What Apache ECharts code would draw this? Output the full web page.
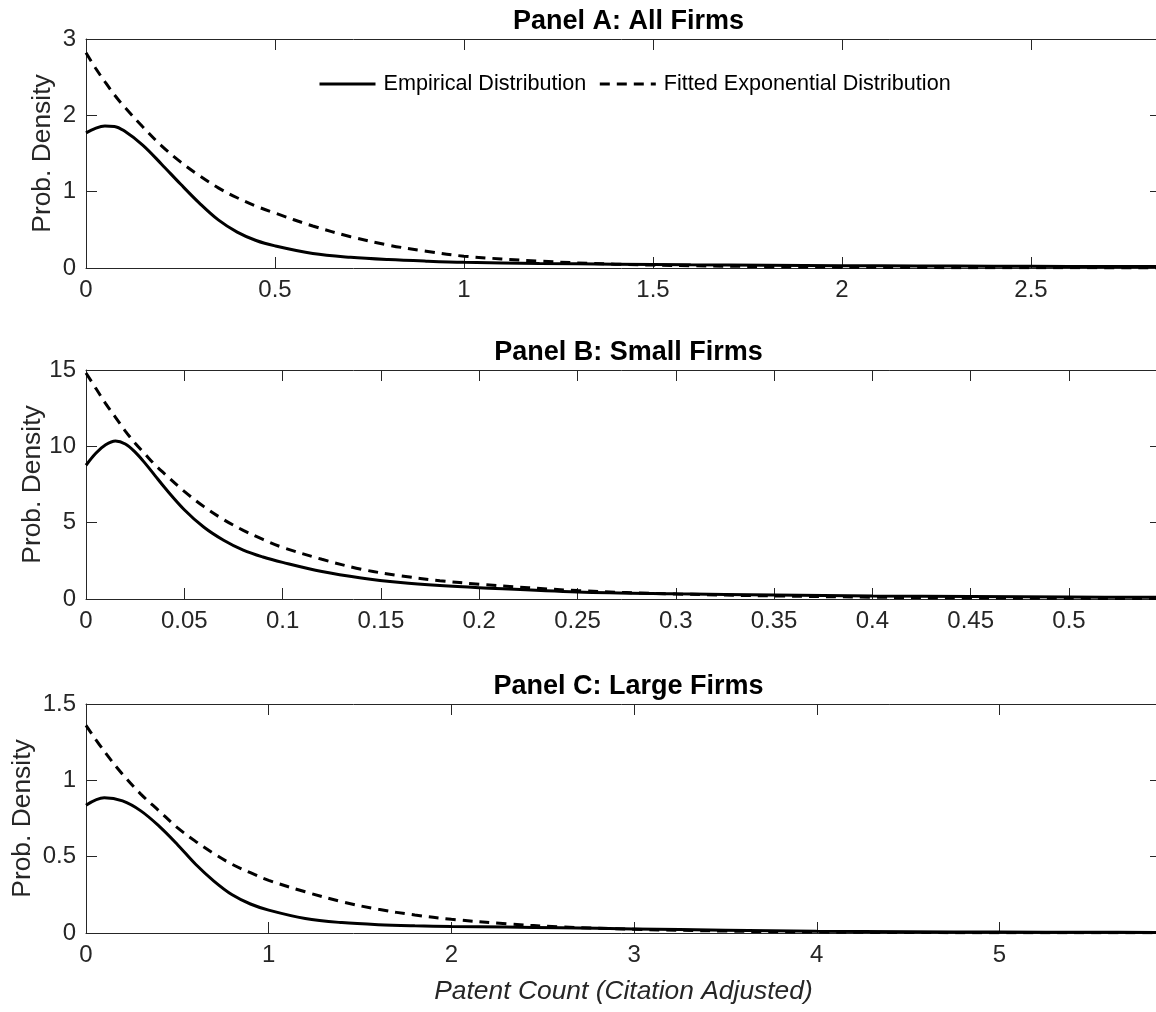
<!DOCTYPE html>
<html>
<head>
<meta charset="utf-8">
<script src="https://cdn.jsdelivr.net/npm/echarts@6/dist/echarts.min.js"></script>
<style>
html,body{margin:0;padding:0;background:#fff;}
#chart{width:1156px;height:1012px;}
</style>
</head>
<body>
<div id="chart"></div>
<script>
// ---- Data ----
const panelTitles = ['Panel A: All Firms', 'Panel B: Small Firms', 'Panel C: Large Firms'];
const seriesNames = ['Empirical Distribution', 'Fitted Exponential Distribution'];
const yAxisName = 'Prob. Density';
const xAxisName = 'Patent Count (Citation Adjusted)';

const xA = [0, 0.025, 0.05, 0.075, 0.1, 0.15, 0.2, 0.25, 0.3, 0.35, 0.4, 0.45, 0.5, 0.6, 0.7, 0.8, 0.9, 1.0, 1.2, 1.4, 1.6, 1.8, 2.0, 2.2, 2.4, 2.6, 2.844];
const empA = [1.77, 1.83, 1.86, 1.855, 1.80, 1.61, 1.36, 1.10, 0.85, 0.63, 0.47, 0.36, 0.29, 0.19, 0.14, 0.11, 0.09, 0.075, 0.06, 0.05, 0.042, 0.036, 0.031, 0.027, 0.024, 0.021, 0.018];
const fitA = [2.82, 2.62, 2.44, 2.27, 2.12, 1.85, 1.60, 1.39, 1.21, 1.05, 0.92, 0.81, 0.72, 0.55, 0.41, 0.30, 0.22, 0.155, 0.09, 0.05, 0.03, 0.018, 0.011, 0.006, 0.003, 0.002, 0.001];

const xB = [0, 0.005, 0.01, 0.015, 0.02, 0.025, 0.03, 0.035, 0.04, 0.05, 0.06, 0.07, 0.08, 0.09, 0.1, 0.12, 0.14, 0.16, 0.18, 0.2, 0.25, 0.3, 0.35, 0.4, 0.45, 0.5, 0.5468];
const empB = [8.76, 9.55, 10.1, 10.35, 10.15, 9.62, 8.9, 8.1, 7.3, 5.85, 4.7, 3.85, 3.2, 2.75, 2.4, 1.8, 1.38, 1.08, 0.88, 0.74, 0.46, 0.34, 0.26, 0.2, 0.16, 0.13, 0.11];
const fitB = [14.8, 13.8, 12.8, 11.9, 11.0, 10.2, 9.5, 8.8, 8.2, 7.05, 6.05, 5.2, 4.5, 3.9, 3.38, 2.6, 1.95, 1.52, 1.2, 0.97, 0.55, 0.33, 0.2, 0.12, 0.07, 0.045, 0.03];

const xC = [0, 0.1, 0.2, 0.3, 0.4, 0.5, 0.6, 0.7, 0.8, 0.9, 1.0, 1.2, 1.4, 1.6, 1.8, 2.0, 2.3, 2.6, 3.0, 3.5, 4.0, 4.5, 5.0, 5.5, 5.884];
const empC = [0.837, 0.886, 0.865, 0.80, 0.70, 0.58, 0.45, 0.34, 0.25, 0.19, 0.15, 0.095, 0.068, 0.054, 0.047, 0.043, 0.039, 0.034, 0.027, 0.018, 0.011, 0.008, 0.006, 0.005, 0.004];
const fitC = [1.36, 1.19, 1.04, 0.91, 0.80, 0.69, 0.60, 0.52, 0.45, 0.395, 0.345, 0.27, 0.205, 0.155, 0.118, 0.09, 0.06, 0.04, 0.024, 0.013, 0.006, 0.003, 0.002, 0.001, 0.001];

const xMax = [2.844, 0.5468, 5.884];
const xStep = [0.5, 0.05, 1];
const yMax = [3, 15, 1.5];
const yStep = [1, 5, 0.5];

// ---- Layout ----
const FONT = '"Liberation Sans", Arial, Helvetica, sans-serif';
const gridTops = [39, 370, 704];
const gridH = 229;
const gridLeft = 86;
const gridW = 1075;
const axisColor = '#262626';
const yNameGaps = [30, 40, 50];

const xs = [xA, xB, xC];
const emps = [empA, empB, empC];
const fits = [fitA, fitB, fitC];

const grids = [], xAxes = [], yAxes = [], series = [], titles = [];
for (let i = 0; i < 3; i++) {
  grids.push({left: gridLeft, top: gridTops[i], width: gridW, height: gridH, containLabel: false, outerBoundsMode: 'none'});
  titles.push({
    text: panelTitles[i], left: gridLeft + gridW / 2, top: gridTops[i] - 36, textAlign: 'center',
    textStyle: {fontFamily: FONT, fontSize: 27, fontWeight: 'bold', color: '#000'}
  });
  const common = {
    type: 'value', gridIndex: i, min: 0, splitLine: {show: false},
    axisLine: {show: true, onZero: false, lineStyle: {color: axisColor, width: 1}},
    axisTick: {show: true, inside: true, length: 11, lineStyle: {color: axisColor, width: 1}}
  };
  xAxes.push(Object.assign({}, common, {
    position: 'bottom', max: xMax[i], interval: xStep[i],
    axisLabel: {show: true, showMaxLabel: false, margin: 10, fontFamily: FONT, fontSize: 24, color: axisColor},
    name: i === 2 ? xAxisName : '', nameLocation: 'middle', nameGap: 46,
    nameTextStyle: {fontFamily: FONT, fontSize: 26.4, fontStyle: 'italic', color: axisColor}
  }));
  xAxes.push(Object.assign({}, common, {
    position: 'top', max: xMax[i], interval: xStep[i], axisLabel: {show: false}
  }));
  yAxes.push(Object.assign({}, common, {
    position: 'left', max: yMax[i], interval: yStep[i],
    axisLabel: {show: true, margin: 10, fontFamily: FONT, fontSize: 24, color: axisColor},
    name: yAxisName, nameLocation: 'middle', nameGap: yNameGaps[i], nameMoveOverlap: false,
    nameTextStyle: {fontFamily: FONT, fontSize: 26.4, color: axisColor}
  }));
  yAxes.push(Object.assign({}, common, {
    position: 'right', max: yMax[i], interval: yStep[i], axisLabel: {show: false}
  }));
  const pairs = (xv, yv) => xv.map((x, k) => [x, yv[k]]);
  series.push({
    name: seriesNames[0], type: 'line', xAxisIndex: 2 * i, yAxisIndex: 2 * i,
    data: pairs(xs[i], emps[i]), showSymbol: false, symbol: 'none', smooth: 0.35,
    lineStyle: {color: '#000', width: 3}, itemStyle: {color: '#000'}, z: 3, silent: true
  });
  series.push({
    name: seriesNames[1], type: 'line', xAxisIndex: 2 * i, yAxisIndex: 2 * i,
    data: pairs(xs[i], fits[i]), showSymbol: false, symbol: 'none', smooth: 0.35,
    lineStyle: {color: '#000', width: 3, type: [10, 7]}, itemStyle: {color: '#000'}, z: 2, silent: true
  });
}

const chart = echarts.init(document.getElementById('chart'), null, {renderer: 'canvas'});
chart.setOption({
  animation: false,
  backgroundColor: '#fff',
  title: titles,
  grid: grids,
  xAxis: xAxes,
  yAxis: yAxes,
  legend: {
    data: seriesNames, left: 313, top: 68, itemWidth: 56, itemHeight: 22, itemGap: 12,
    itemStyle: {opacity: 0, color: 'rgba(0,0,0,0)', borderWidth: 0},
    lineStyle: {width: 3},
    textStyle: {fontFamily: FONT, fontSize: 21.6, color: '#000', padding: [0, 0, 0, 3]}
  },
  series: series
});
</script>
</body>
</html>
